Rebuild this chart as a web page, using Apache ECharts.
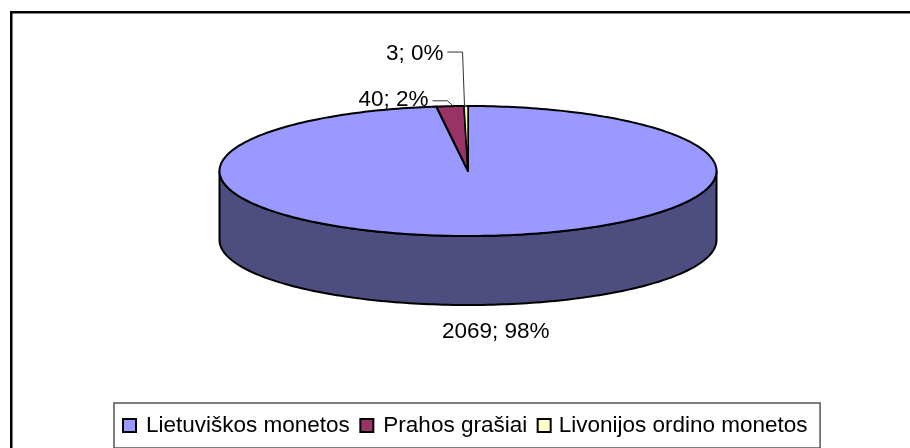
<!DOCTYPE html>
<html><head><meta charset="utf-8">
<style>html,body{margin:0;padding:0;background:#fff;overflow:hidden}#c{width:910px;height:448px}</style>
<script src="https://cdn.jsdelivr.net/npm/echarts@6/dist/echarts.min.js"></script></head>
<body><div id="c"></div>
<script>
const categories = ['Lietuviškos monetos', 'Prahos grašiai', 'Livonijos ordino monetos'];
const values = [2069, 40, 3];
const percents = [98, 2, 0];
const colors = ['#9999FF', '#993366', '#FFFFCC'];
const wallColors = ['#4D4D80', '#4D1A33', '#808066'];

const total = values.reduce((a, b) => a + b, 0);
const FONT = 'Liberation Sans';
const DEPTH = 69;
const STROKE = '#000';
const MIN_ANGLE = 0.9 * Math.PI / 180; // same idea as the pie series' minAngle

// slice spans: proportional to the values, with a minimum so tiny slices stay visible
const spans = values.map(v => Math.max(v / total * 2 * Math.PI, MIN_ANGLE));
spans[1] -= spans.reduce((a, b) => a + b, 0) - 2 * Math.PI;

function arcPts(api, a0, a1, off) {
  const n = Math.max(2, Math.ceil(Math.abs(a1 - a0) / 0.02));
  const pts = [];
  for (let i = 0; i <= n; i++) {
    const a = a0 + (a1 - a0) * i / n;
    const p = api.coord([Math.sin(a), Math.cos(a)]);
    pts.push([p[0], p[1] + off]);
  }
  return pts;
}

// label anchors in data units of the unit ellipse, and leader lines
const labelPos = [
  { x: 0.112, y: -2.477, lead: null },
  { x: -0.159, y: 1.09, lead: [[-0.143, 1.08], [-0.083, 1.08], [-0.062, 1.01]] },
  { x: -0.0986, y: 1.80, lead: [[-0.083, 1.83], [-0.022, 1.83], [-0.014, 1.0]] }
];

function renderSlice(params, api) {
  const i = params.seriesIndex;
  const start = spans.slice(0, i).reduce((a, b) => a + b, 0);
  const end = start + spans[i];
  const c = api.coord([0, 0]);
  const lw = i === 2 ? 1.4 : 2;
  const children = [];
  // front wall: only the part of the rim on the near half of the ellipse
  const f0 = Math.max(start, Math.PI / 2), f1 = Math.min(end, Math.PI * 3 / 2);
  if (f1 > f0) {
    const top = arcPts(api, f0, f1, 0);
    const bot = arcPts(api, f1, f0, DEPTH);
    children.push({ type: 'polygon', shape: { points: top.concat(bot) },
      style: { fill: wallColors[i], stroke: STROKE, lineWidth: 2, lineJoin: 'round' } });
  }
  children.push({ type: 'polygon', shape: { points: [c].concat(arcPts(api, start, end, 0)) },
    style: { fill: colors[i], stroke: STROKE, lineWidth: lw, lineJoin: 'round' } });
  const lp = labelPos[i];
  if (lp.lead) {
    children.push({ type: 'polyline', shape: { points: lp.lead.map(p => api.coord(p)) },
      style: { fill: null, stroke: '#333', lineWidth: 1 }, z2: 5 });
  }
  const t = api.coord([lp.x, lp.y]);
  children.push({ type: 'text', z2: 6, x: t[0], y: t[1],
    style: { text: values[i] + '; ' + percents[i] + '%', fill: '#000', font: '22.5px "' + FONT + '"',
      align: i === 0 ? 'center' : 'right', verticalAlign: 'middle' } });
  return { type: 'group', children };
}

const chart = echarts.init(document.getElementById('c'), null, { renderer: 'canvas' });
chart.setOption({
  animation: false,
  backgroundColor: '#fff',
  graphic: [{ type: 'rect', z: -10, shape: { x: 11.25, y: 12.25, width: 920, height: 450 },
    style: { fill: '#fff', stroke: '#000', lineWidth: 2.5 } }],
  grid: { left: 219.5, width: 497, top: 106, height: 130 },
  xAxis: { type: 'value', min: -1, max: 1, show: false },
  yAxis: { type: 'value', min: -1, max: 1, show: false },
  legend: {
    left: 114, top: 403, width: 705, height: 44, orient: 'horizontal',
    data: [
      { name: categories[0] },
      { name: categories[1] },
      { name: categories[2], textStyle: { padding: [0, 0, 0, 3] } }
    ],
    selectedMode: false,
    itemWidth: 13, itemHeight: 13, itemGap: 9.5,
    padding: [11, 12.5, 11, 8],
    backgroundColor: '#fff', borderColor: '#555', borderWidth: 1.5,
    icon: 'rect',
    textStyle: { fontFamily: FONT, fontSize: 22.5, color: '#000', padding: [0, 0, 0, 5] },
    itemStyle: { borderColor: '#000', borderWidth: 2 }
  },
  series: categories.map((name, i) => ({
    type: 'custom', name, coordinateSystem: 'cartesian2d', renderItem: renderSlice,
    data: [[values[i]]], itemStyle: { color: colors[i] }, clip: false, silent: true,
    encode: { x: [], y: [] }
  }))
});
</script></body></html>
